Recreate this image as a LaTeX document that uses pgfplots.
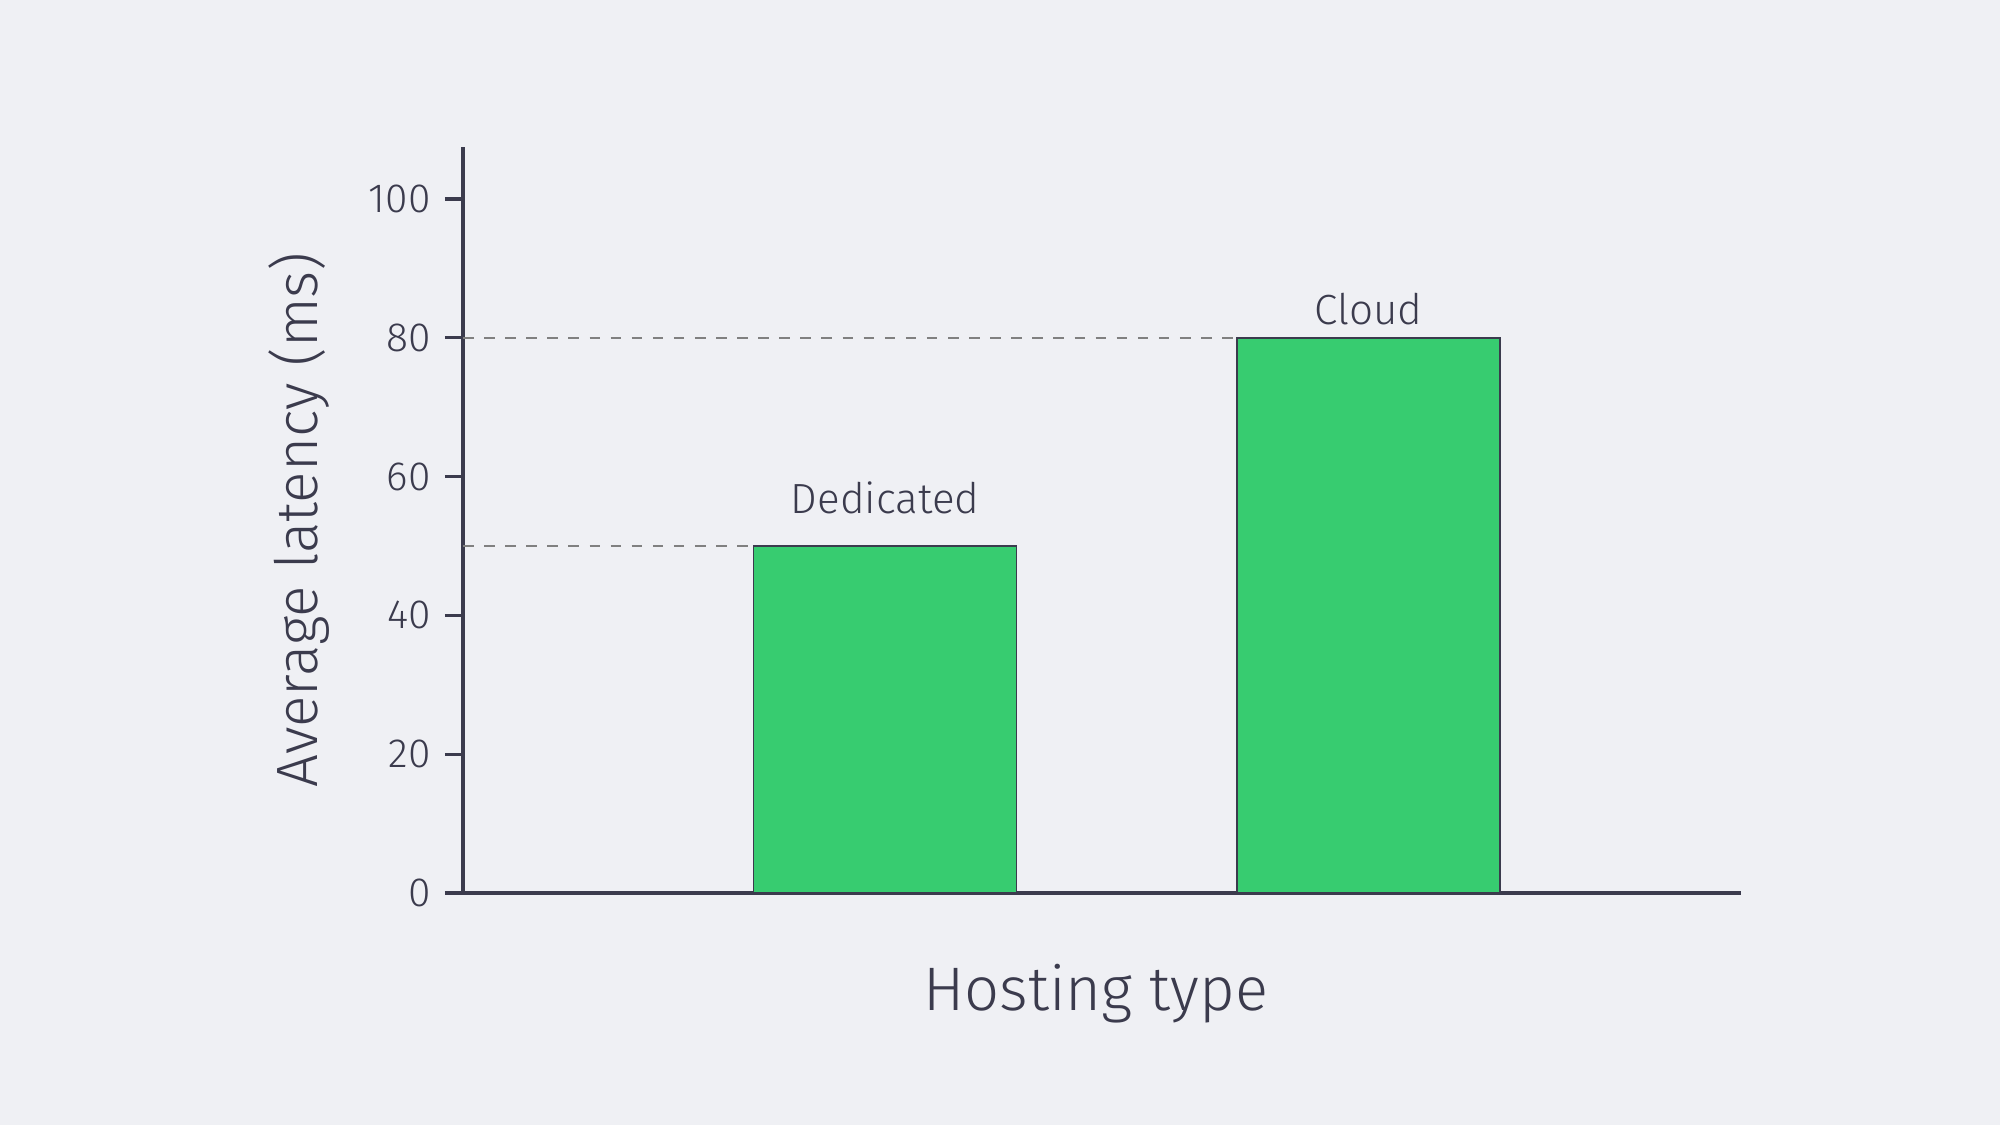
\documentclass[border=0pt]{standalone}
\usepackage{pgfplots}
\pgfplotsset{compat=1.18}
\usepackage{fontspec}
\setmainfont{Fira Sans}[UprightFont={* Light}]
\definecolor{bg}{HTML}{EFF0F4}
\definecolor{barfill}{HTML}{37CC70}
\definecolor{ink}{HTML}{3B3B4D}
\begin{document}
\begin{tikzpicture}
\fill[bg] (0,0) rectangle (20cm,11.25cm);
\path[use as bounding box] (0,0) rectangle (20cm,11.25cm);
\begin{axis}[
    at={(4.63cm,2.32cm)}, anchor=south west,
    scale only axis,
    width=12.78cm, height=7.46cm,
    xmin=-0.873, xmax=1.77,
    ymin=0, ymax=107.5,
    axis lines=left,
    axis line style={ink, line width=0.9pt, -},
    xtick=\empty,
    ytick={0,20,40,60,80,100},
    tick align=outside,
    major tick length=0.18cm,
    ytick style={ink, line width=0.9pt},
    yticklabel style={font=\fontsize{11.6}{13}\selectfont, text=ink, xshift=-0.02cm},
    /pgf/number format/assume math mode=true,
    xlabel={Hosting type},
    ylabel={Average latency (ms)},
    xlabel style={font=\fontsize{17.5}{20}\selectfont, text=ink, at={(axis description cs:0.495,-0.158)}, anchor=base},
    ylabel style={font=\fontsize{16.6}{20}\selectfont, text=ink, at={(axis description cs:-0.1135,0.5)}, anchor=base},
    clip=false,
]
\addplot[ybar, bar width=2.63cm, fill=barfill, draw=ink, line width=0.45pt] coordinates {(0,50) (1,80)};
\addplot[gray, dashed, line width=0.4pt] coordinates {(-0.873,50) (-0.272,50)};
\addplot[gray, dashed, line width=0.4pt] coordinates {(-0.873,80) (0.728,80)};
\node[anchor=base, text=ink, font=\fontsize{12}{14}\selectfont, yshift=0.33cm] at (axis cs:0,50) {Dedicated};
\node[anchor=base, text=ink, font=\fontsize{12}{14}\selectfont, yshift=0.13cm] at (axis cs:1,80) {Cloud};
\end{axis}
\end{tikzpicture}
\end{document}
